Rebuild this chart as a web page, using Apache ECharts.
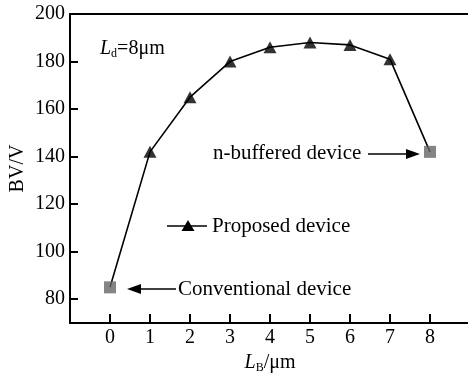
<!DOCTYPE html>
<html>
<head>
<meta charset="utf-8">
<script src="https://cdn.jsdelivr.net/npm/echarts@6/dist/echarts.min.js"></script>
<style>html,body{margin:0;padding:0;background:#fff;}#c{width:468px;height:379px;}</style>
</head>
<body>
<div id="c"></div>
<script>
// Data
var xTicks = [0, 1, 2, 3, 4, 5, 6, 7, 8];
var yTicks = [80, 100, 120, 140, 160, 180, 200];
var conventionalX = [0];
var conventionalY = [85];
var proposedX = [1, 2, 3, 4, 5, 6, 7];
var proposedY = [142, 165, 180, 186, 188, 187, 181];
var nbufferedX = [8];
var nbufferedY = [142];

var FONT = '"Liberation Serif", "Times New Roman", serif';
var FS = 20;

function pairs(xs, ys) { return xs.map(function (x, i) { return [x, ys[i]]; }); }
var conv = pairs(conventionalX, conventionalY);
var prop = pairs(proposedX, proposedY);
var nbuf = pairs(nbufferedX, nbufferedY);
var all = conv.concat(prop).concat(nbuf);

var chart = echarts.init(document.getElementById('c'), null, {renderer: 'canvas'});
chart.setOption({
  animation: false,
  backgroundColor: '#fff',
  grid: {left: 70, right: -2, top: 14, bottom: 56, containLabel: false, outerBoundsMode: 'none'},
  xAxis: [{
    type: 'value', min: -1, max: 9, position: 'bottom',
    axisLine: {show: true, onZero: false, lineStyle: {color: '#000', width: 2}},
    splitLine: {show: false},
    axisTick: {show: true, inside: true, length: 9, lineStyle: {color: '#000', width: 2}, customValues: xTicks},
    axisLabel: {show: true, color: '#000', fontFamily: FONT, fontSize: FS, margin: 5, customValues: xTicks},
    name: '{i|L}{s|B}{n|/μm}', nameLocation: 'middle', nameGap: 28,
    nameTextStyle: {
      color: '#000', fontFamily: FONT, fontSize: FS,
      rich: {
        i: {fontFamily: FONT, fontSize: FS, fontStyle: 'italic', color: '#000'},
        s: {fontFamily: FONT, fontSize: 12, color: '#000', verticalAlign: 'bottom', padding: [9, 0, 0, 0]},
        n: {fontFamily: FONT, fontSize: FS, color: '#000'}
      }
    }
  }, {
    type: 'value', min: -1, max: 9, position: 'top',
    axisLine: {show: true, onZero: false, lineStyle: {color: '#000', width: 2}},
    splitLine: {show: false}, axisTick: {show: false}, axisLabel: {show: false}
  }],
  yAxis: {
    type: 'value', min: 70, max: 200,
    axisLine: {show: true, onZero: false, lineStyle: {color: '#000', width: 2}},
    splitLine: {show: false},
    axisTick: {show: true, inside: true, length: 8, lineStyle: {color: '#000', width: 2}, customValues: yTicks},
    axisLabel: {show: true, color: '#000', fontFamily: FONT, fontSize: FS, margin: 5, customValues: yTicks},
    name: 'BV/V', nameLocation: 'middle', nameGap: 42, nameRotate: 90, nameMoveOverlap: false,
    nameTextStyle: {color: '#000', fontFamily: FONT, fontSize: FS}
  },
  series: [{
    type: 'line', data: all, symbol: 'none',
    lineStyle: {color: '#000', width: 1.6}, z: 2
  }, {
    type: 'scatter', data: prop, symbol: 'triangle', symbolSize: [13, 12],
    itemStyle: {color: '#000'}, z: 3
  }, {
    type: 'scatter', data: conv.concat(nbuf), symbol: 'rect', symbolSize: 12,
    itemStyle: {color: '#666'}, z: 3
  }],
  graphic: [
    {type: 'text', left: 100, top: 39, style: {
      text: '{i|L}{s|d}{n|=8μm}', fill: '#000', font: FS + 'px ' + FONT,
      rich: {
        i: {fontFamily: FONT, fontSize: FS, fontStyle: 'italic', fill: '#000'},
        s: {fontFamily: FONT, fontSize: 12, fill: '#000', verticalAlign: 'bottom', padding: [9, 0, 0, 0]},
        n: {fontFamily: FONT, fontSize: FS, fill: '#000'}
      }
    }},
    {type: 'text', x: 213, y: 153, style: {text: 'n-buffered device', fill: '#000', font: '21px ' + FONT, verticalAlign: 'middle'}},
    {type: 'line', shape: {x1: 368, y1: 154, x2: 412, y2: 154}, style: {stroke: '#000', lineWidth: 1.5}},
    {type: 'polygon', shape: {points: [[420, 154], [406, 149], [406, 159]]}, style: {fill: '#000'}},
    {type: 'line', shape: {x1: 167, y1: 226, x2: 207, y2: 226}, style: {stroke: '#000', lineWidth: 1.5}},
    {type: 'polygon', shape: {points: [[188, 220], [194.5, 231], [181.5, 231]]}, style: {fill: '#000'}},
    {type: 'text', x: 212, y: 226, style: {text: 'Proposed device', fill: '#000', font: '21px ' + FONT, verticalAlign: 'middle'}},
    {type: 'line', shape: {x1: 176, y1: 289, x2: 135, y2: 289}, style: {stroke: '#000', lineWidth: 1.5}},
    {type: 'polygon', shape: {points: [[127, 289], [141, 284], [141, 294]]}, style: {fill: '#000'}},
    {type: 'text', x: 178, y: 289, style: {text: 'Conventional device', fill: '#000', font: '21px ' + FONT, verticalAlign: 'middle'}}
  ]
});
</script>
</body>
</html>
